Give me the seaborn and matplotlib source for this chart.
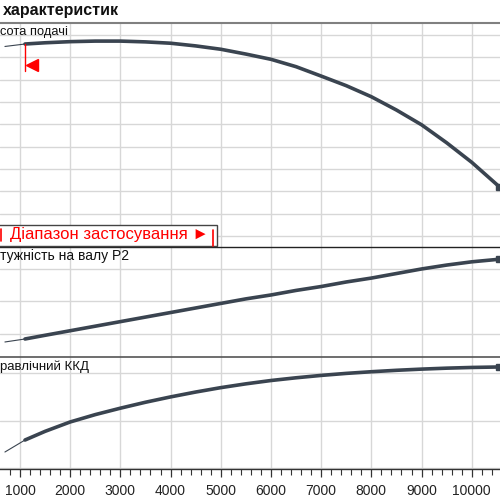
import matplotlib
matplotlib.use("Agg")
import matplotlib.pyplot as plt
from matplotlib.patches import Rectangle
from matplotlib.lines import Line2D
from matplotlib.ticker import MultipleLocator
import seaborn as sns

# витрата (м3/год) на робочій ділянці
flow = [1100, 1500, 2000, 2500, 3000, 3500, 4000, 4500, 5000, 5500, 6000, 6500,
        7000, 7500, 8000, 8500, 9000, 9500, 10000, 10550]
# продовження кривих лівіше діапазону застосування
flow_ext = [700, 1100]

head = [17.19, 17.30, 17.40, 17.45, 17.45, 17.38, 17.26, 17.02, 16.72, 16.29, 15.82, 15.16,
        14.32, 13.46, 12.47, 11.28, 9.96, 8.35, 6.60, 4.41]
head_ext = [16.97, 17.19]

power = [0.923, 0.98, 1.05, 1.12, 1.19, 1.26, 1.33, 1.40, 1.47, 1.54, 1.60, 1.67,
         1.73, 1.80, 1.86, 1.93, 2.00, 2.06, 2.11, 2.15]
power_ext = [0.877, 0.923]

eff = [23.6, 30.9, 38.8, 45.0, 50.4, 55.4, 59.9, 64.0, 67.7, 70.9, 73.7, 76.0,
       78.0, 79.7, 81.1, 82.3, 83.3, 84.1, 84.7, 85.1]
eff_ext = [13.5, 23.6]

xticks = [1000, 2000, 3000, 4000, 5000, 6000, 7000, 8000, 9000, 10000]

# видимі частини підписів (ліві краї обрізані рамкою кадру)
labels = ["сота подачі", "тужність на валу P2", "равлічний ККД"]

CURVE = "#3a4450"
GRID = "#d7d7d7"
RED = "#ff0000"

sns.set_theme(style="white")
plt.rcParams['font.family'] = ['Liberation Sans', 'DejaVu Sans']

W = H = 500


def fx(px):
    return px / W


def fy(py):
    return 1 - py / H


fig = plt.figure(figsize=(5, 5), dpi=100)

# панелі: (верх px, низ px)
ax_h = fig.add_axes([0, fy(247), 1, (247 - 23) / H])
ax_p = fig.add_axes([0, fy(357), 1, (357 - 247) / H])
ax_e = fig.add_axes([0, fy(469), 1, (469 - 357) / H])

for ax in (ax_h, ax_p, ax_e):
    ax.set_xlim(602, 10563)
    ax.set_xticks(xticks)
    ax.xaxis.grid(True, color=GRID, linewidth=1.0)
    ax.yaxis.grid(True, color=GRID, linewidth=1.0)
    ax.set_axisbelow(True)
    ax.tick_params(axis='y', left=False, labelleft=False)
    for s in ("left", "right"):
        ax.spines[s].set_visible(False)

ax_h.set_ylim(-0.98, 19.07)
ax_h.set_yticks(range(0, 19, 2))
ax_p.set_ylim(0.646, 2.338)
ax_p.set_yticks([1.0, 1.5, 2.0])
ax_e.set_ylim(-0.8, 93.5)
ax_e.set_yticks([0, 40, 80])

for ax in (ax_h, ax_p):
    ax.tick_params(axis='x', bottom=False, labelbottom=False)
    ax.spines["bottom"].set_visible(False)

ax_h.spines["top"].set_color("#808080")
ax_h.spines["top"].set_linewidth(1.5)
ax_p.spines["top"].set_color("#222222")
ax_p.spines["top"].set_linewidth(1.0)
ax_e.spines["top"].set_color("#555555")
ax_e.spines["top"].set_linewidth(1.2)
ax_e.spines["bottom"].set_color("#333333")
ax_e.spines["bottom"].set_linewidth(1.0)

ax_e.xaxis.set_minor_locator(MultipleLocator(200))
ax_e.tick_params(axis='x', which='major', bottom=True, direction='out', length=6,
                 width=0.9, color="#333333", labelsize=10, pad=5, labelcolor="#222222")
ax_e.tick_params(axis='x', which='minor', bottom=True, direction='out', length=4,
                 width=0.8, color="#333333")

for ax, y, y_ext in ((ax_h, head, head_ext), (ax_p, power, power_ext), (ax_e, eff, eff_ext)):
    sns.lineplot(x=flow_ext, y=y_ext, ax=ax, color=CURVE, linewidth=0.8)
    sns.lineplot(x=flow, y=y, ax=ax, color=CURVE, linewidth=2.6)
    ax.plot(flow[-1:], y[-1:], marker='s', markersize=5, color=CURVE, clip_on=False)
    ax.set_xlabel("")
    ax.set_ylabel("")

# позначка початку діапазону застосування
ax_h.plot([flow[0], flow[0]], [head[0], 14.8], color=RED, linewidth=1.0)
ax_h.plot([1240], [15.3], marker='<', markersize=8, color=RED, linestyle='none')

# назви кривих
fig.text(fx(0), fy(32), labels[0], ha='left', va='center', fontsize=9.3, color="#111111")
fig.text(fx(0), fy(256), labels[1], ha='left', va='center', fontsize=10, color="#111111")
fig.text(fx(0), fy(367), labels[2], ha='left', va='center', fontsize=9.5, color="#111111")

# заголовок
fig.text(fx(3), fy(11), "характеристик", ha='left', va='center', fontsize=11.5,
         fontweight='bold', color="#111111")

# рамка "Діапазон застосування"
fig.patches.append(Rectangle((fx(-5), fy(246)), fx(222), (246 - 225) / H,
                             transform=fig.transFigure, facecolor="white",
                             edgecolor="#444444", linewidth=1.0, zorder=5))
fig.text(fx(209), fy(235), "Діапазон застосування ►", ha='right', va='center',
         fontsize=12, color=RED, zorder=6)
fig.lines.append(Line2D([fx(213), fx(213)], [fy(230), fy(246)], transform=fig.transFigure,
                        color=RED, linewidth=1.2, zorder=6))
fig.lines.append(Line2D([fx(1), fx(1)], [fy(229), fy(241)], transform=fig.transFigure,
                        color=RED, linewidth=1.2, zorder=6))

plt.savefig("out.png", dpi=100)
